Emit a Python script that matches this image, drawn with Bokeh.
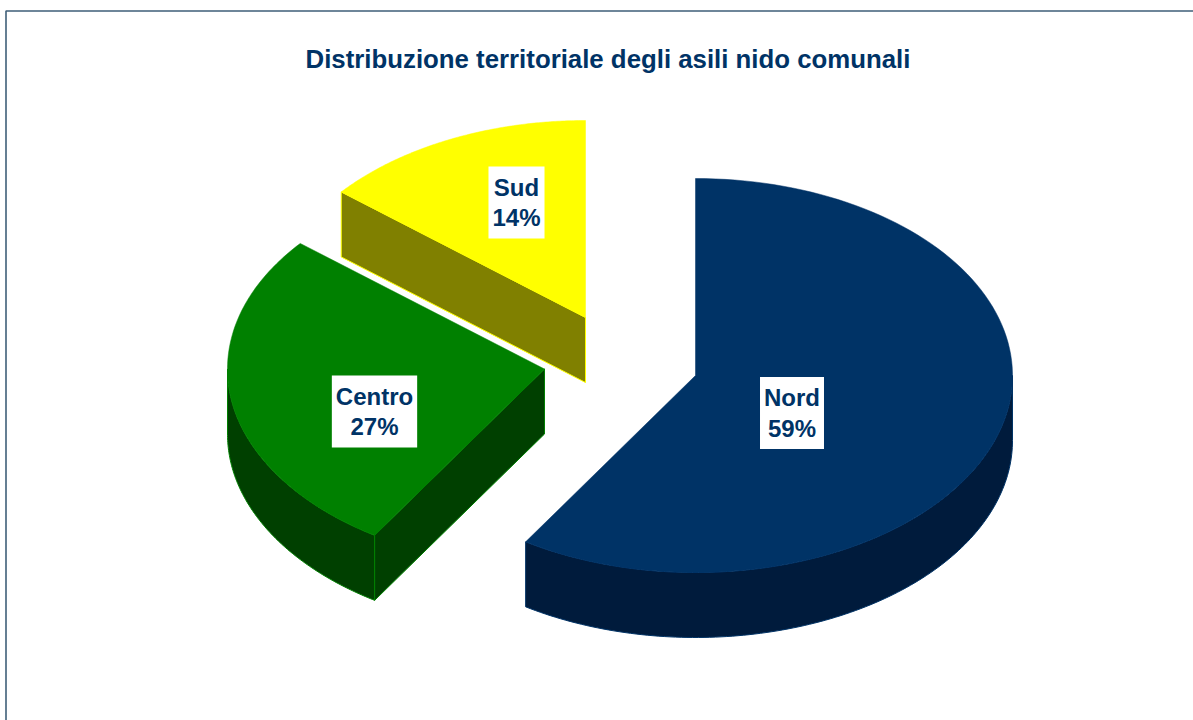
import numpy as np
from bokeh.core.properties import value
from bokeh.embed import file_html
from bokeh.models import Label
from bokeh.plotting import figure
from bokeh.resources import INLINE

# data
categories = ["Nord", "Centro", "Sud"]
shares = [59, 27, 14]
title_text = "Distribuzione territoriale degli asili nido comunali"

# style / layout
top_colors = ["#003366", "#008000", "#ffff00"]
side_colors = ["#001b3c", "#004000", "#808000"]
navy = "#003366"
centers = [(695, 375), (544, 368.5), (585, 317)]   # exploded apex of each slice
label_pos = [(791.5, 412.5), (374, 411), (516, 202)]
RX, RY, DEPTH = 317, 197, 65

p = figure(width=1193, height=720, x_range=(0, 1193), y_range=(720, 0),
           toolbar_location=None, output_backend="svg", min_border=0,
           background_fill_color="white",
           border_fill_color="white", outline_line_color=None)
p.axis.visible = False
p.grid.visible = False

p.line([1193, 5.5, 5.5], [10.5, 10.5, 720], line_color="#3f5f78", line_width=1.6)


def arc(cx, cy, t0, t1):
    t = np.linspace(t0, t1, 120)
    return cx + RX * np.sin(t), cy - RY * np.cos(t)


fractions = np.array(shares, dtype=float) / sum(shares)
ends = np.cumsum(fractions) * 2 * np.pi
starts = np.concatenate([[0.0], ends[:-1]])

for i in [2, 1, 0]:
    cx, cy = centers[i]
    t0, t1 = starts[i], ends[i]
    # outer wall: only the part that faces the viewer
    lo, hi = max(t0, np.pi / 2), min(t1, 3 * np.pi / 2)
    if hi > lo:
        ax, ay = arc(cx, cy, lo, hi)
        p.patch(np.r_[ax, ax[::-1]], np.r_[ay, ay[::-1] + DEPTH],
                fill_color=side_colors[i], line_color=top_colors[i], line_width=1)
    # radial cut face of the exploded slice
    if np.sin(t0) < -1e-9:
        ex, ey = arc(cx, cy, t0, t0)
        ex, ey = ex[0], ey[0]
        p.patch([cx, ex, ex, cx], [cy, ey, ey + DEPTH, cy + DEPTH],
                fill_color=side_colors[i], line_color=top_colors[i], line_width=1)
    ax, ay = arc(cx, cy, t0, t1)
    p.patch(np.r_[cx, ax], np.r_[cy, ay], fill_color=top_colors[i],
            line_color=top_colors[i], line_width=0.5)

lx, ly = zip(*label_pos)
p.text(list(lx), list(ly),
       text=[f"{c}\n{s}%" for c, s in zip(categories, shares)],
       text_font=value("Liberation Sans"), text_font_style="bold",
       text_font_size="24px", text_color=navy, text_align="center",
       text_baseline="middle", text_line_height=1.14,
       background_fill_color="white", padding=(4, 7))

p.add_layout(Label(x=607.5, y=58, text=title_text, text_font="Liberation Sans",
                   text_font_style="bold", text_font_size="25.8px", text_color=navy,
                   text_align="center", text_baseline="middle"))

open("out.html", "w").write(file_html(p, INLINE))
